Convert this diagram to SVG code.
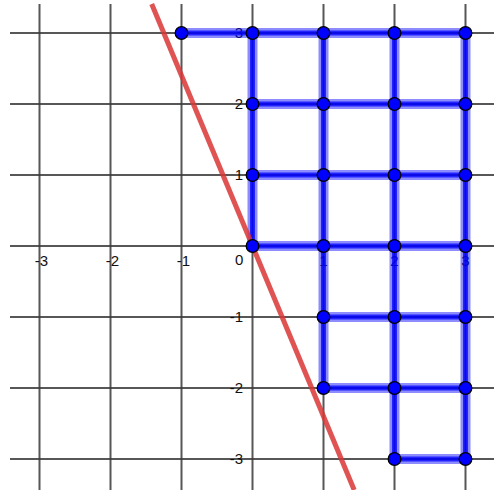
<svg xmlns="http://www.w3.org/2000/svg" width="494" height="490" viewBox="0 0 494 490">
<style>
.grid line{stroke:#3a3a3a;stroke-width:2;stroke-opacity:0.85}
.lbl{font-family:"Liberation Sans",Arial,sans-serif;font-size:15px;fill:#111}
.xl{text-anchor:middle}
.yl{text-anchor:end}
.halo{stroke:#0000ff;stroke-width:10;stroke-opacity:0.45;fill:none}
.seg{stroke:#0000ff;stroke-width:5;stroke-opacity:0.75;fill:none}
.pt{fill:#0000ff;stroke:#000;stroke-width:1.3}
.red{stroke:#d93535;stroke-width:5;stroke-opacity:0.85;fill:none}
</style>
<rect width="494" height="490" fill="#fff"/>
<g class="grid">
<line x1="39.5" y1="4" x2="39.5" y2="490"/>
<line x1="110.5" y1="4" x2="110.5" y2="490"/>
<line x1="181.5" y1="4" x2="181.5" y2="490"/>
<line x1="252.5" y1="4" x2="252.5" y2="490"/>
<line x1="323.5" y1="4" x2="323.5" y2="490"/>
<line x1="394.5" y1="4" x2="394.5" y2="490"/>
<line x1="465.5" y1="4" x2="465.5" y2="490"/>
<line x1="10" y1="33" x2="494" y2="33"/>
<line x1="10" y1="104" x2="494" y2="104"/>
<line x1="10" y1="175" x2="494" y2="175"/>
<line x1="10" y1="246" x2="494" y2="246"/>
<line x1="10" y1="317" x2="494" y2="317"/>
<line x1="10" y1="388" x2="494" y2="388"/>
<line x1="10" y1="459" x2="494" y2="459"/>
</g>
<g class="lbl">
<text class="xl" x="41.5" y="266">-3</text>
<text class="xl" x="112.5" y="266">-2</text>
<text class="xl" x="183.5" y="266">-1</text>
<text x="235" y="265">0</text>
<text class="xl" x="323.5" y="266">1</text>
<text class="xl" x="394.5" y="266">2</text>
<text class="xl" x="465.5" y="266">3</text>
<text class="yl" x="243" y="38">3</text>
<text class="yl" x="243" y="109">2</text>
<text class="yl" x="243" y="180">1</text>
<text class="yl" x="243" y="322">-1</text>
<text class="yl" x="243" y="393">-2</text>
<text class="yl" x="243" y="464">-3</text>
</g>
<defs>
<path id="segs" d="M181.5 33H465.5M252.5 104H465.5M252.5 175H465.5M252.5 246H465.5M323.5 317H465.5M323.5 388H465.5M394.5 459H465.5M252.5 33V246M323.5 33V388M394.5 33V459M465.5 33V459"/>
</defs>
<g id="connectors">
<use href="#segs" class="halo"/>
<use href="#segs" class="seg"/>
</g>
<g id="line">
<line class="red" x1="151.7" y1="4" x2="354.2" y2="490"/>
</g>
<g id="points">
<g id="P_m1_3"><circle class="pt" cx="181.5" cy="33" r="6.3"/></g>
<g id="P_0_3"><circle class="pt" cx="252.5" cy="33" r="6.3"/></g>
<g id="P_0_2"><circle class="pt" cx="252.5" cy="104" r="6.3"/></g>
<g id="P_0_1"><circle class="pt" cx="252.5" cy="175" r="6.3"/></g>
<g id="P_0_0"><circle class="pt" cx="252.5" cy="246" r="6.3"/></g>
<g id="P_1_3"><circle class="pt" cx="323.5" cy="33" r="6.3"/></g>
<g id="P_1_2"><circle class="pt" cx="323.5" cy="104" r="6.3"/></g>
<g id="P_1_1"><circle class="pt" cx="323.5" cy="175" r="6.3"/></g>
<g id="P_1_0"><circle class="pt" cx="323.5" cy="246" r="6.3"/></g>
<g id="P_1_m1"><circle class="pt" cx="323.5" cy="317" r="6.3"/></g>
<g id="P_1_m2"><circle class="pt" cx="323.5" cy="388" r="6.3"/></g>
<g id="P_2_3"><circle class="pt" cx="394.5" cy="33" r="6.3"/></g>
<g id="P_2_2"><circle class="pt" cx="394.5" cy="104" r="6.3"/></g>
<g id="P_2_1"><circle class="pt" cx="394.5" cy="175" r="6.3"/></g>
<g id="P_2_0"><circle class="pt" cx="394.5" cy="246" r="6.3"/></g>
<g id="P_2_m1"><circle class="pt" cx="394.5" cy="317" r="6.3"/></g>
<g id="P_2_m2"><circle class="pt" cx="394.5" cy="388" r="6.3"/></g>
<g id="P_2_m3"><circle class="pt" cx="394.5" cy="459" r="6.3"/></g>
<g id="P_3_3"><circle class="pt" cx="465.5" cy="33" r="6.3"/></g>
<g id="P_3_2"><circle class="pt" cx="465.5" cy="104" r="6.3"/></g>
<g id="P_3_1"><circle class="pt" cx="465.5" cy="175" r="6.3"/></g>
<g id="P_3_0"><circle class="pt" cx="465.5" cy="246" r="6.3"/></g>
<g id="P_3_m1"><circle class="pt" cx="465.5" cy="317" r="6.3"/></g>
<g id="P_3_m2"><circle class="pt" cx="465.5" cy="388" r="6.3"/></g>
<g id="P_3_m3"><circle class="pt" cx="465.5" cy="459" r="6.3"/></g>
</g>
</svg>
